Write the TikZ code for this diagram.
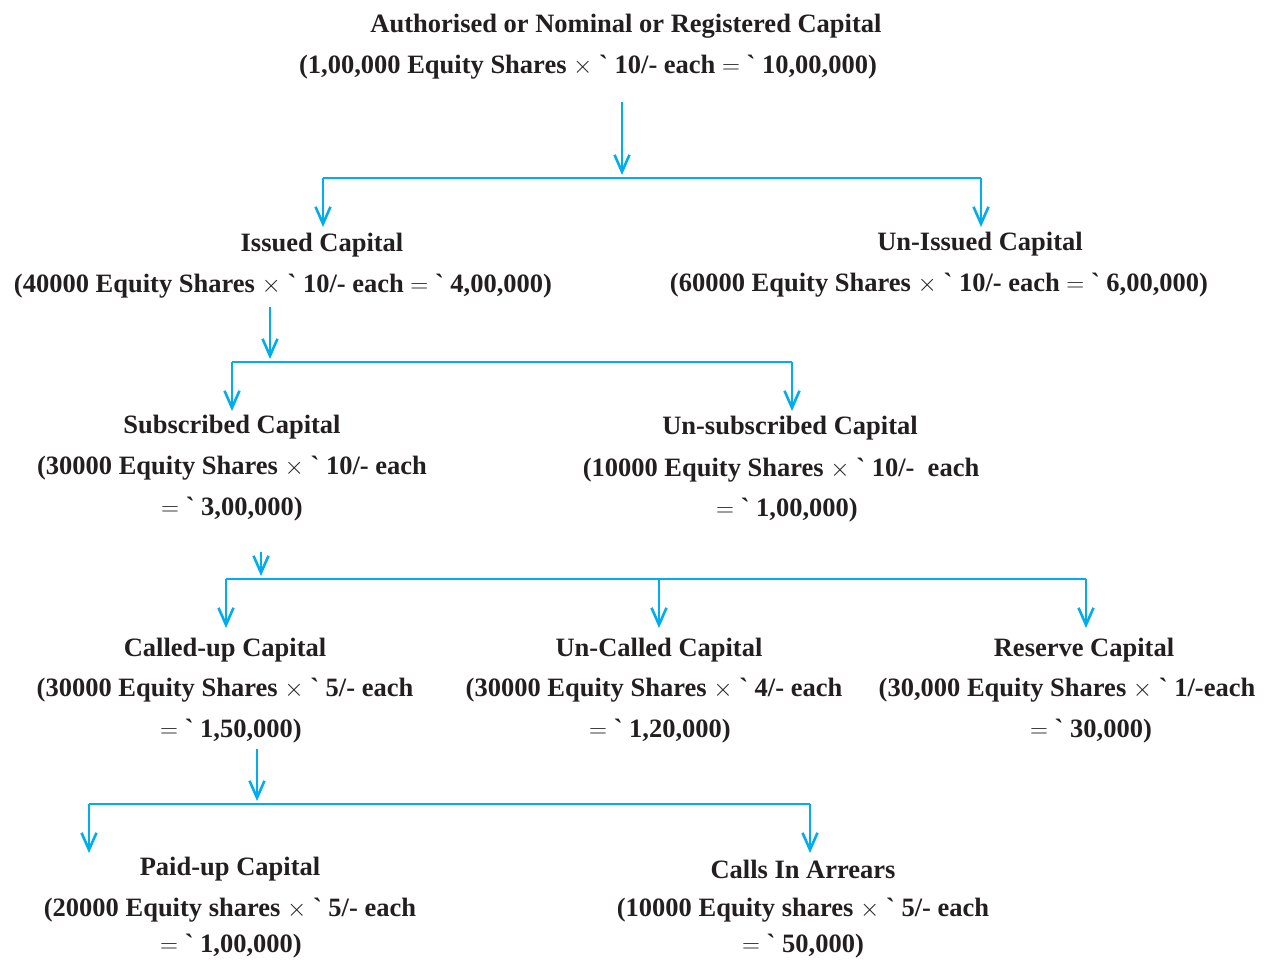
\documentclass[tikz,border=0pt]{standalone}
\usepackage{fontspec}
\setmainfont{Liberation Serif}
\usetikzlibrary{arrows.meta}
\definecolor{lineblue}{HTML}{00AEEF}
\definecolor{txt}{HTML}{231F20}
\newcommand{\Rs}{\textasciigrave}
\newcommand{\tms}{ $\times$ }
\newcommand{\eqs}{$=$}
\begin{document}
\begin{tikzpicture}[x=1pt,y=-1pt,
  lbl/.style={inner sep=0pt,anchor=center,yshift=-2.5pt,text=txt,font=\fontsize{26.5}{30}\selectfont\bfseries},
  lastlbl/.style={lbl,yshift=2.5pt},
  conn/.style={draw=lineblue,line width=2.6pt},
  arr/.style={conn,-{Straight Barb[length=17pt,width=15pt,line width=2.6pt]}}]
\useasboundingbox (0,0) rectangle (1266,961);
% top
\node[lbl] (a1) at (626,24) {Authorised or Nominal or Registered Capital};
\node[lbl] (a2) at (588,65) {(1,00,000 Equity Shares\tms\Rs\ 10/- each \eqs\ \Rs\ 10,00,000)};
% level 2
\node[lbl] (i1) at (322,243) {Issued Capital};
\node[lbl] (i2) at (283,284) {(40000 Equity Shares\tms\Rs\ 10/- each \eqs\ \Rs\ 4,00,000)};
\node[lbl] (u1) at (980,242) {Un-Issued Capital};
\node[lbl] (u2) at (939,283) {(60000 Equity Shares\tms\Rs\ 10/- each \eqs\ \Rs\ 6,00,000)};
% level 3
\node[lbl] (s1) at (232,425) {Subscribed Capital};
\node[lbl] (s2) at (232,466) {(30000 Equity Shares\tms\Rs\ 10/- each};
\node[lbl] (s3) at (232,507) {\eqs\ \Rs\ 3,00,000)};
\node[lbl] (n1) at (790,426) {Un-subscribed Capital};
\node[lbl] (n2) at (781,468) {(10000 Equity Shares\tms\Rs\ 10/-\ \ each};
\node[lbl] (n3) at (787,508) {\eqs\ \Rs\ 1,00,000)};
% level 4
\node[lbl] (c1) at (225,648) {Called-up Capital};
\node[lbl] (c2) at (225,688) {(30000 Equity Shares\tms\Rs\ 5/- each};
\node[lbl] (c3) at (231,729) {\eqs\ \Rs\ 1,50,000)};
\node[lbl] (k1) at (659,648) {Un-Called Capital};
\node[lbl] (k2) at (654,688) {(30000 Equity Shares\tms\Rs\ 4/- each};
\node[lbl] (k3) at (660,729) {\eqs\ \Rs\ 1,20,000)};
\node[lbl] (r1) at (1084,648) {Reserve Capital};
\node[lbl] (r2) at (1067,688) {(30,000 Equity Shares\tms\Rs\ 1/-each};
\node[lbl] (r3) at (1091,729) {\eqs\ \Rs\ 30,000)};
% level 5
\node[lbl] (p1) at (230,867) {Paid-up Capital};
\node[lbl] (p2) at (230,908) {(20000 Equity shares\tms\Rs\ 5/- each};
\node[lastlbl] (p3) at (231,946) {\eqs\ \Rs\ 1,00,000)};
\node[lbl] (q1) at (803,867) {Calls In Arrears};
\node[lbl] (q2) at (803,908) {(10000 Equity shares\tms\Rs\ 5/- each};
\node[lastlbl] (q3) at (803,946) {\eqs\ \Rs\ 50,000)};
% connectors level 1
\coordinate (a0) at (622,102);
\coordinate (aj) at (622,175);
\coordinate (al) at (323,178);
\coordinate (ar) at (981,178);
\coordinate (at1) at (323,227);
\coordinate (at2) at (981,227);
\draw[arr] (a0) -- (aj);
\draw[conn] (al) -- (ar);
\draw[arr] (al) -- (at1);
\draw[arr] (ar) -- (at2);
% level 2
\coordinate (i0) at (270,307);
\coordinate (ij) at (270,359);
\coordinate (il) at (232,362);
\coordinate (ir) at (792,362);
\coordinate (it1) at (232,411);
\coordinate (it2) at (792,411);
\draw[arr] (i0) -- (ij);
\draw[conn] (il) -- (ir);
\draw[arr] (il) -- (it1);
\draw[arr] (ir) -- (it2);
% level 3
\coordinate (s0) at (261,552);
\coordinate (sj) at (261,576);
\coordinate (sl) at (226,579);
\coordinate (sm) at (659,579);
\coordinate (sr) at (1086,579);
\coordinate (st1) at (226,628);
\coordinate (st2) at (659,628);
\coordinate (st3) at (1086,628);
\draw[arr] (s0) -- (sj);
\draw[conn] (sl) -- (sr);
\draw[arr] (sl) -- (st1);
\draw[arr] (sm) -- (st2);
\draw[arr] (sr) -- (st3);
% level 4
\coordinate (c0) at (257,749);
\coordinate (cj) at (257,801);
\coordinate (cl) at (89,804);
\coordinate (cr) at (810,804);
\coordinate (ct1) at (89,853);
\coordinate (ct2) at (810,853);
\draw[arr] (c0) -- (cj);
\draw[conn] (cl) -- (cr);
\draw[arr] (cl) -- (ct1);
\draw[arr] (cr) -- (ct2);
\end{tikzpicture}
\end{document}
